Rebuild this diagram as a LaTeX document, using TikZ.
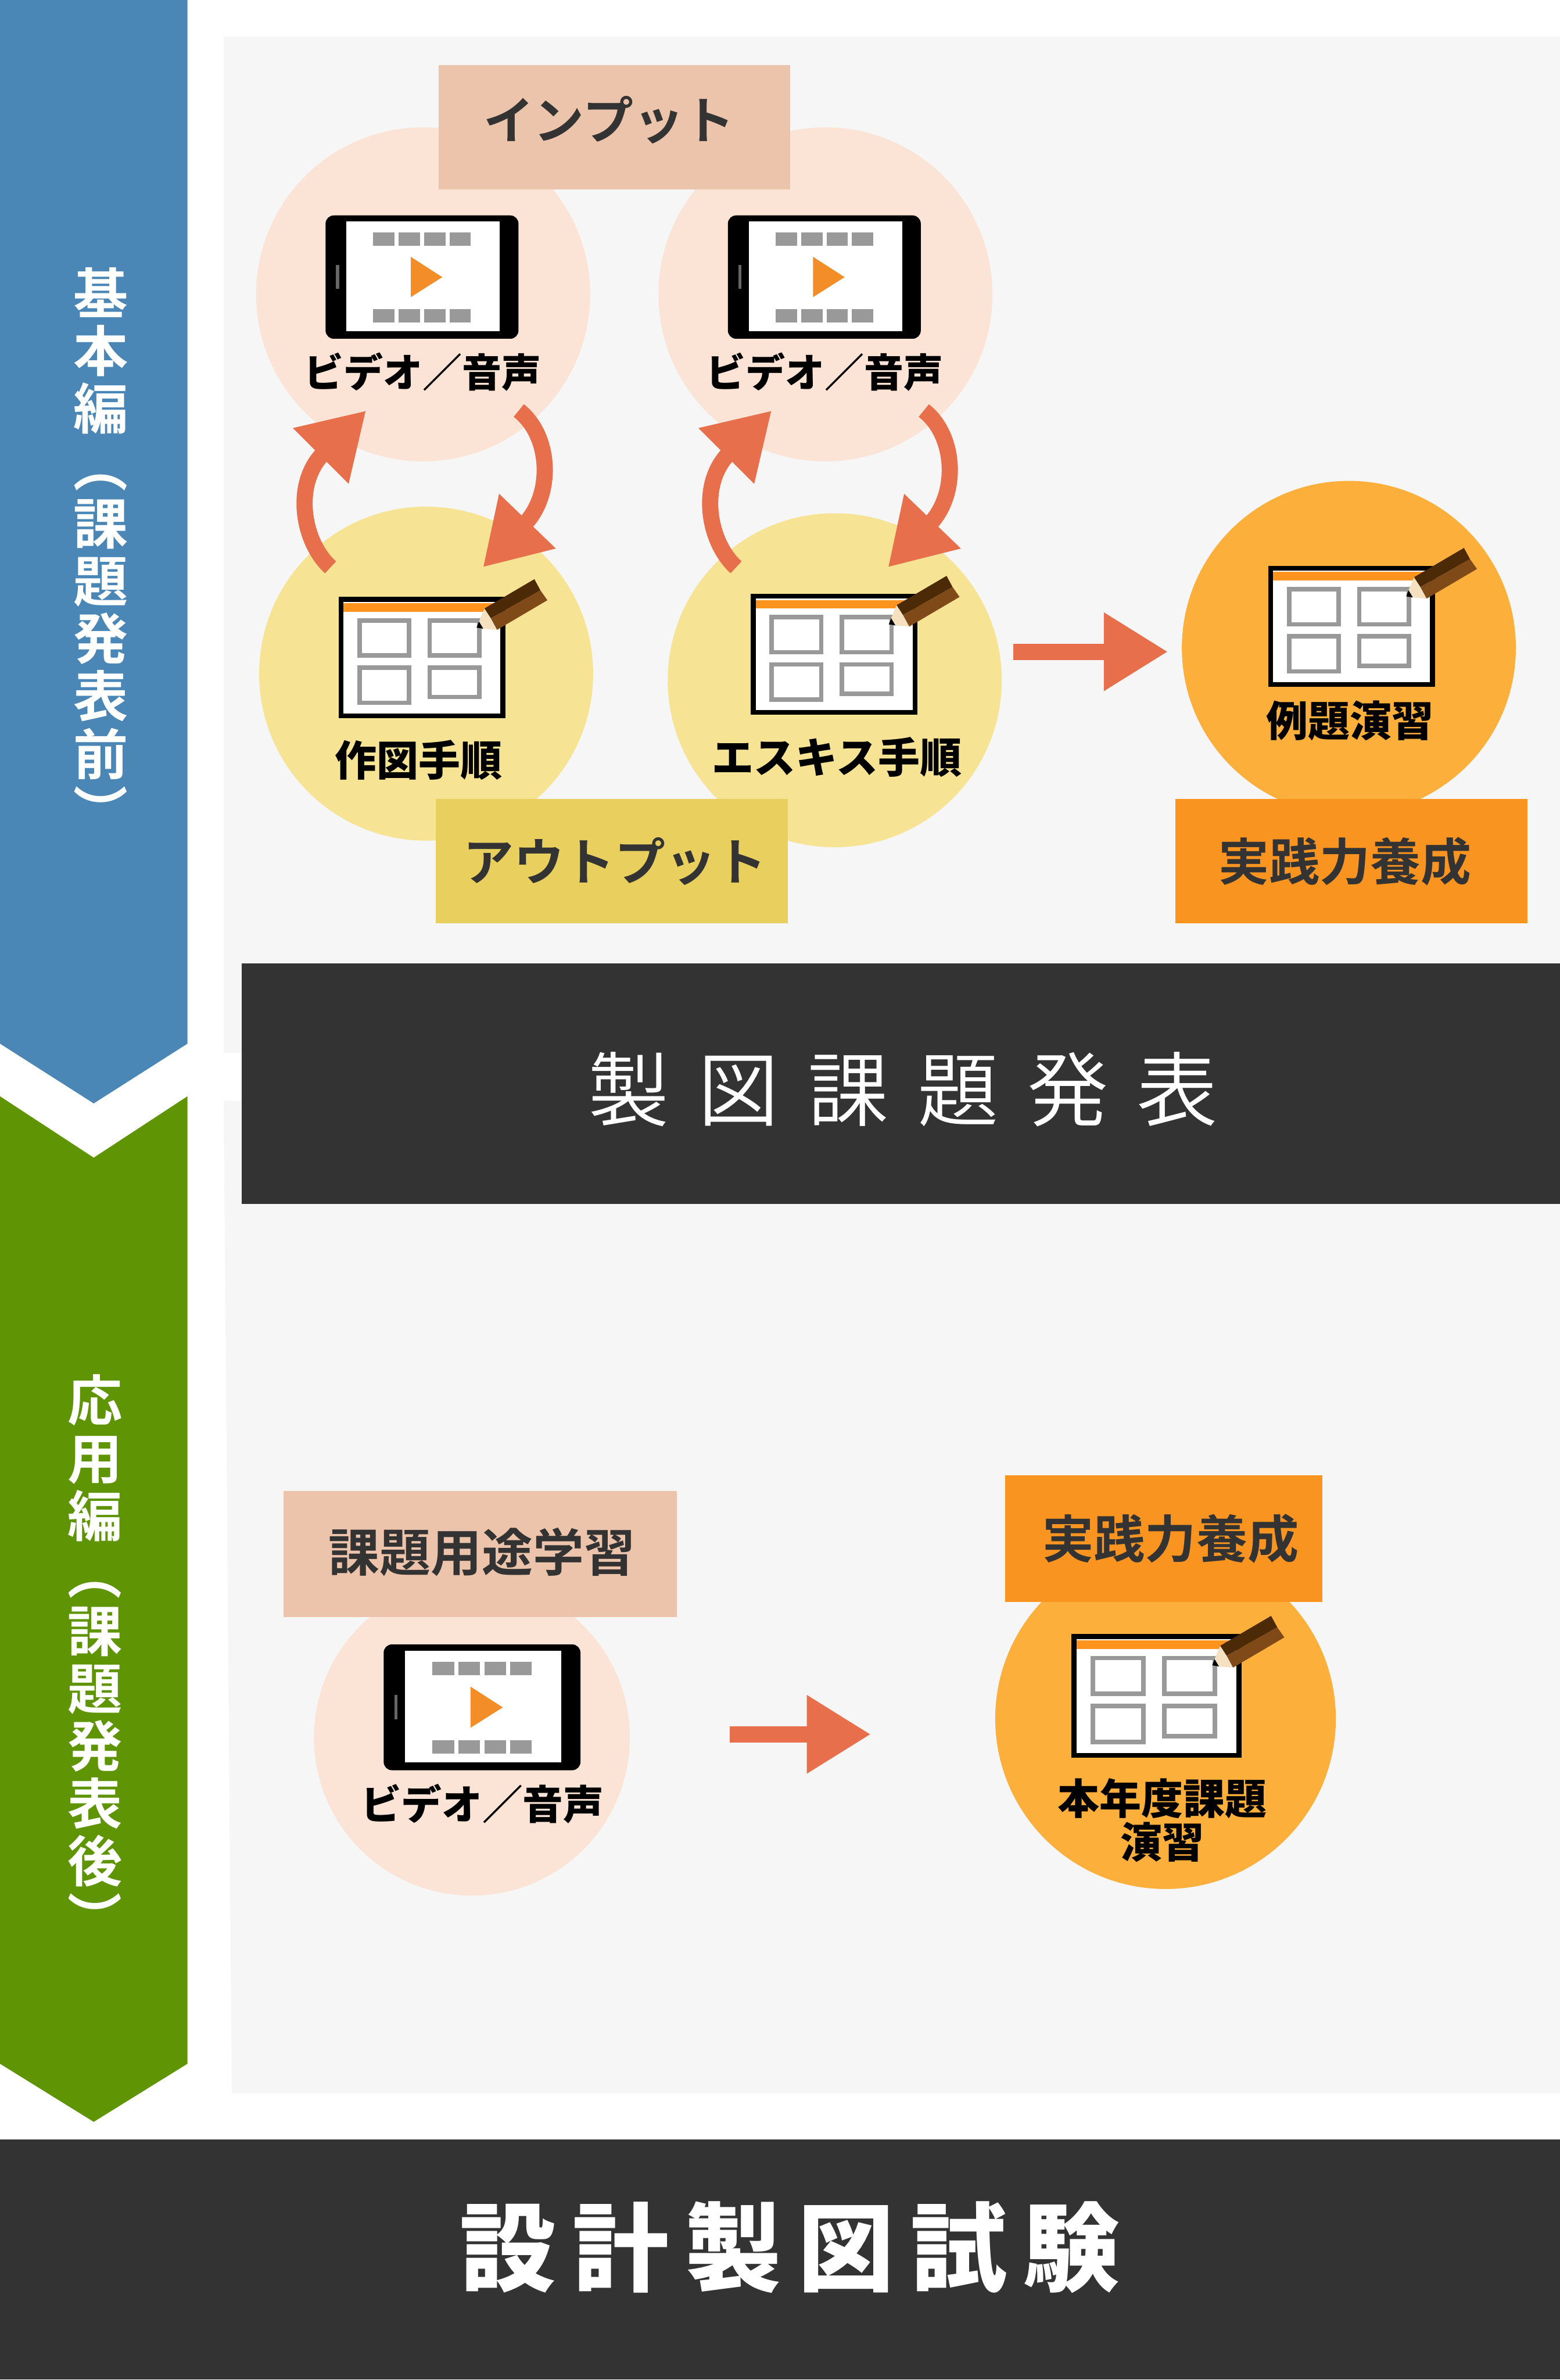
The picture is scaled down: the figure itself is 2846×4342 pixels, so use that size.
\documentclass[tikz,border=0pt]{standalone}
\usepackage{fontspec}
\usetikzlibrary{arrows.meta}
\newfontfamily\jplight{Noto Sans CJK JP DemiLight}
\newfontfamily\jpbold{Noto Sans CJK JP Bold}
\newfontfamily\jpblack{Noto Sans CJK JP Black}
\definecolor{basicblue}{HTML}{4A86B6}
\definecolor{applygreen}{HTML}{5F9504}
\definecolor{panelgray}{HTML}{F6F6F6}
\definecolor{bandgray}{HTML}{333333}
\definecolor{discpink}{HTML}{FBE3D6}
\definecolor{discyellow}{HTML}{F7E394}
\definecolor{discorange}{HTML}{FCAF3B}
\definecolor{boxpink}{HTML}{ECC3AB}
\definecolor{boxyellow}{HTML}{E9CF5D}
\definecolor{boxorange}{HTML}{F99420}
\definecolor{flowred}{HTML}{E86F4B}
\definecolor{playorange}{HTML}{F28D28}
\definecolor{frameorange}{HTML}{FF931E}
\definecolor{framegray}{HTML}{999999}
\definecolor{pencildark}{HTML}{4D2A07}
\definecolor{pencilbrown}{HTML}{7F4A17}
\definecolor{pencilwood}{HTML}{F5E1C0}
\tikzset{
  disc/.style={circle,inner sep=0pt,outer sep=0pt,minimum size=6.09cm},
  tagbox/.style={rectangle,inner sep=0pt,outer sep=0pt,minimum width=6.42cm,minimum height=2.26cm},
  tagtext/.style={text=bandgray,inner sep=0pt,font=\jpbold\fontsize{26.2}{30}\selectfont},
  iconlabel/.style={text=black,inner sep=0pt,font=\jpblack\fontsize{21.7}{22.8}\selectfont},
  sidelabel/.style={text=white,inner sep=0pt,align=center,font=\jpbold\fontsize{28.4}{29.87}\selectfont},
  band/.style={rectangle,fill=bandgray,inner sep=0pt,outer sep=0pt},
  flow/.style={draw,flowred,line width=8.4pt,-{Triangle[length=33.3pt,width=38.4pt]}},
  tablet/.pic={
    \fill[black,rounded corners=0.15cm] (0,0) rectangle (352,225);
    \fill[white] (38,11) rectangle (318,211);
    \fill[black!60] (19,90) rectangle (25,134);
    \foreach \bx in {87,133.5,180,226} {
      \fill[framegray] (\bx,31) rectangle +(39,24);
      \fill[framegray] (\bx,171) rectangle +(39,24);
    }
    \fill[playorange] (155.5,75.6) -- (155.5,149) -- (213,112.6) -- cycle;
  },
  sheet/.pic={
    \fill[black] (0,0) rectangle (304,221);
    \fill[white] (9,9) rectangle (295,212.5);
    \fill[frameorange] (9,11.5) rectangle (285,27);
    \foreach \bx/\by/\bh in {38/43/64,166/43/64,38/129/64,166/129/53.5} {
      \draw[framegray,line width=2.3pt] (\bx,\by) rectangle +(90.5,\bh);
    }
    \fill[black] (256,44.7) -- (264,58) -- (251.6,56) -- cycle;
    \fill[pencilwood] (266,21) -- (289,60) -- (264,58) -- (256,44.7) -- cycle;
    \fill[pencildark] (357,-32.4) -- (368,-12) -- (277.5,39) -- (266,21) -- cycle;
    \fill[pencilbrown] (368,-12) -- (380.7,6) -- (289,60) -- (277.5,39) -- cycle;
  },
}

\begin{document}
\begin{tikzpicture}[x=0.01cm,y=-0.01cm]
        \useasboundingbox (0,0) rectangle (2846,4342);
        \fill[panelgray] (408,67) rectangle (2846,1921);
        \fill[panelgray] (408,2008) -- (2846,2008) -- (2846,3819) -- (423,3819) -- cycle;
        \fill[basicblue] (0,0) -- (342,0) -- (342,1904) -- (171,2013) -- (0,1904) -- cycle;
        \fill[applygreen] (0,2000) -- (171,2112) -- (342,2000) -- (342,3765) -- (171,3871) -- (0,3765) -- cycle;

        \node[disc,fill=discpink] (video1) at (772,537) {};
        \node[disc,fill=discpink] (video2) at (1506,537) {};
        \node[disc,fill=discyellow] (drawing) at (777.5,1229) {};
        \node[disc,fill=discyellow] (esquisse) at (1523,1241) {};
        \node[disc,fill=discorange] (example) at (2461,1182) {};
        \node[disc,fill=discpink,minimum size=5.76cm] (video3) at (861,3170) {};
        \node[disc,fill=discorange,minimum size=6.21cm] (yearly) at (2126.5,3135.5) {};

        \coordinate (up1a) at (603,1035);
        \coordinate (up1b) at (668,749);
        \coordinate (down1a) at (946.5,749);
        \coordinate (down1b) at (881,1035);
        \coordinate (up2a) at (1343,1035);
        \coordinate (up2b) at (1408,749);
        \coordinate (down2a) at (1685.5,749);
        \coordinate (down2b) at (1620,1035);
        \coordinate (go1a) at (1849,1189);
        \coordinate (go1b) at (2131,1189);
        \coordinate (go2a) at (1331,3164);
        \coordinate (go2b) at (1589,3164);
        \path (up1a) edge[flow,out=138,in=225,out looseness=.6,in looseness=1.65] (up1b);
        \path (down1a) edge[flow,out=322,in=46,out looseness=.65,in looseness=1.62] (down1b);
        \path (up2a) edge[flow,out=138,in=225,out looseness=.6,in looseness=1.65] (up2b);
        \path (down2a) edge[flow,out=322,in=46,out looseness=.65,in looseness=1.62] (down2b);
        \path (go1a) edge[flow] (go1b);
        \path (go2a) edge[flow] (go2b);

        \node[tagbox,fill=boxpink] (inputbox) at (1121,232) {};
        \node[tagbox,fill=boxyellow] (outputbox) at (1116,1571) {};
        \node[tagbox,fill=boxorange] (practicebox) at (2466,1571) {};
        \node[tagbox,fill=boxpink,minimum width=7.17cm,minimum height=2.3cm] (usebox) at (876.5,2835) {};
        \node[tagbox,fill=boxorange,minimum width=5.79cm,minimum height=2.31cm] (practicelow) at (2123.5,2806.5) {};
        \node[tagtext] (inputtext) at (1111,219) {インプット};
        \node[tagtext] (outputtext) at (1122,1572) {アウトプット};
        \node[tagtext] (practicetext) at (2454,1572) {実践力養成};
        \node[tagtext,font=\jpbold\fontsize{26.5}{30}\selectfont] (usetext) at (879,2831) {課題用途学習};
        \node[tagtext,font=\jpbold\fontsize{26.6}{30}\selectfont] (practicelowtext) at (2136,2807) {実践力養成};

        \pic (tablet1) at (594,393) {tablet};
        \pic (tablet2) at (1328,393) {tablet};
        \pic[scale=1.02] (tablet3) at (700,3000) {tablet};
        \pic (sheet1) at (618,1089) {sheet};
        \pic (sheet2) at (1370,1083) {sheet};
        \pic (sheet3) at (2314,1032) {sheet};
        \pic[scale=1.02] (sheet4) at (1955,2981) {sheet};

        \node[iconlabel,font=\jpblack\fontsize{20.5}{22}\selectfont] (video1text) at (771,679) {ビデオ／音声};
        \node[iconlabel,font=\jpblack\fontsize{20.5}{22}\selectfont] (video2text) at (1505,679) {ビデオ／音声};
        \node[iconlabel,font=\jpblack\fontsize{21}{22}\selectfont] (video3text) at (880,3291) {ビデオ／音声};
        \node[iconlabel] (drawingtext) at (764,1387) {作図手順};
        \node[iconlabel] (esquissetext) at (1527,1381) {エスキス手順};
        \node[iconlabel] (exampletext) at (2463,1315) {例題演習};
        \node[iconlabel,align=center] (yearlytext) at (2121,3321) {本年度課題\\演習};

        \node[sidelabel] (basictext) at (184,1009) {基\\本\\編\\\rotatebox[origin=c]{-90}{（}\\課\\題\\発\\表\\前\\\rotatebox[origin=c]{-90}{）}};
        \node[sidelabel] (applytext) at (173,3029) {応\\用\\編\\\rotatebox[origin=c]{-90}{（}\\課\\題\\発\\表\\後\\\rotatebox[origin=c]{-90}{）}};

        \node[band,minimum width=24.04cm,minimum height=4.38cm] (midband) at (1644,1977) {};
        \node[band,minimum width=28.46cm,minimum height=4.38cm] (lowband) at (1423,4122) {};
        \node[text=white,inner sep=0pt,font=\jplight\fontsize{42}{46}\selectfont\addfontfeature{LetterSpace=35.5}] (midtext) at (1648,1987) {製図課題発表};
        \node[text=white,inner sep=0pt,font=\jpblack\fontsize{50}{54}\selectfont\addfontfeature{LetterSpace=17}] (lowtext) at (1441,4100) {設計製図試験};
    \end{tikzpicture}
\end{document}
